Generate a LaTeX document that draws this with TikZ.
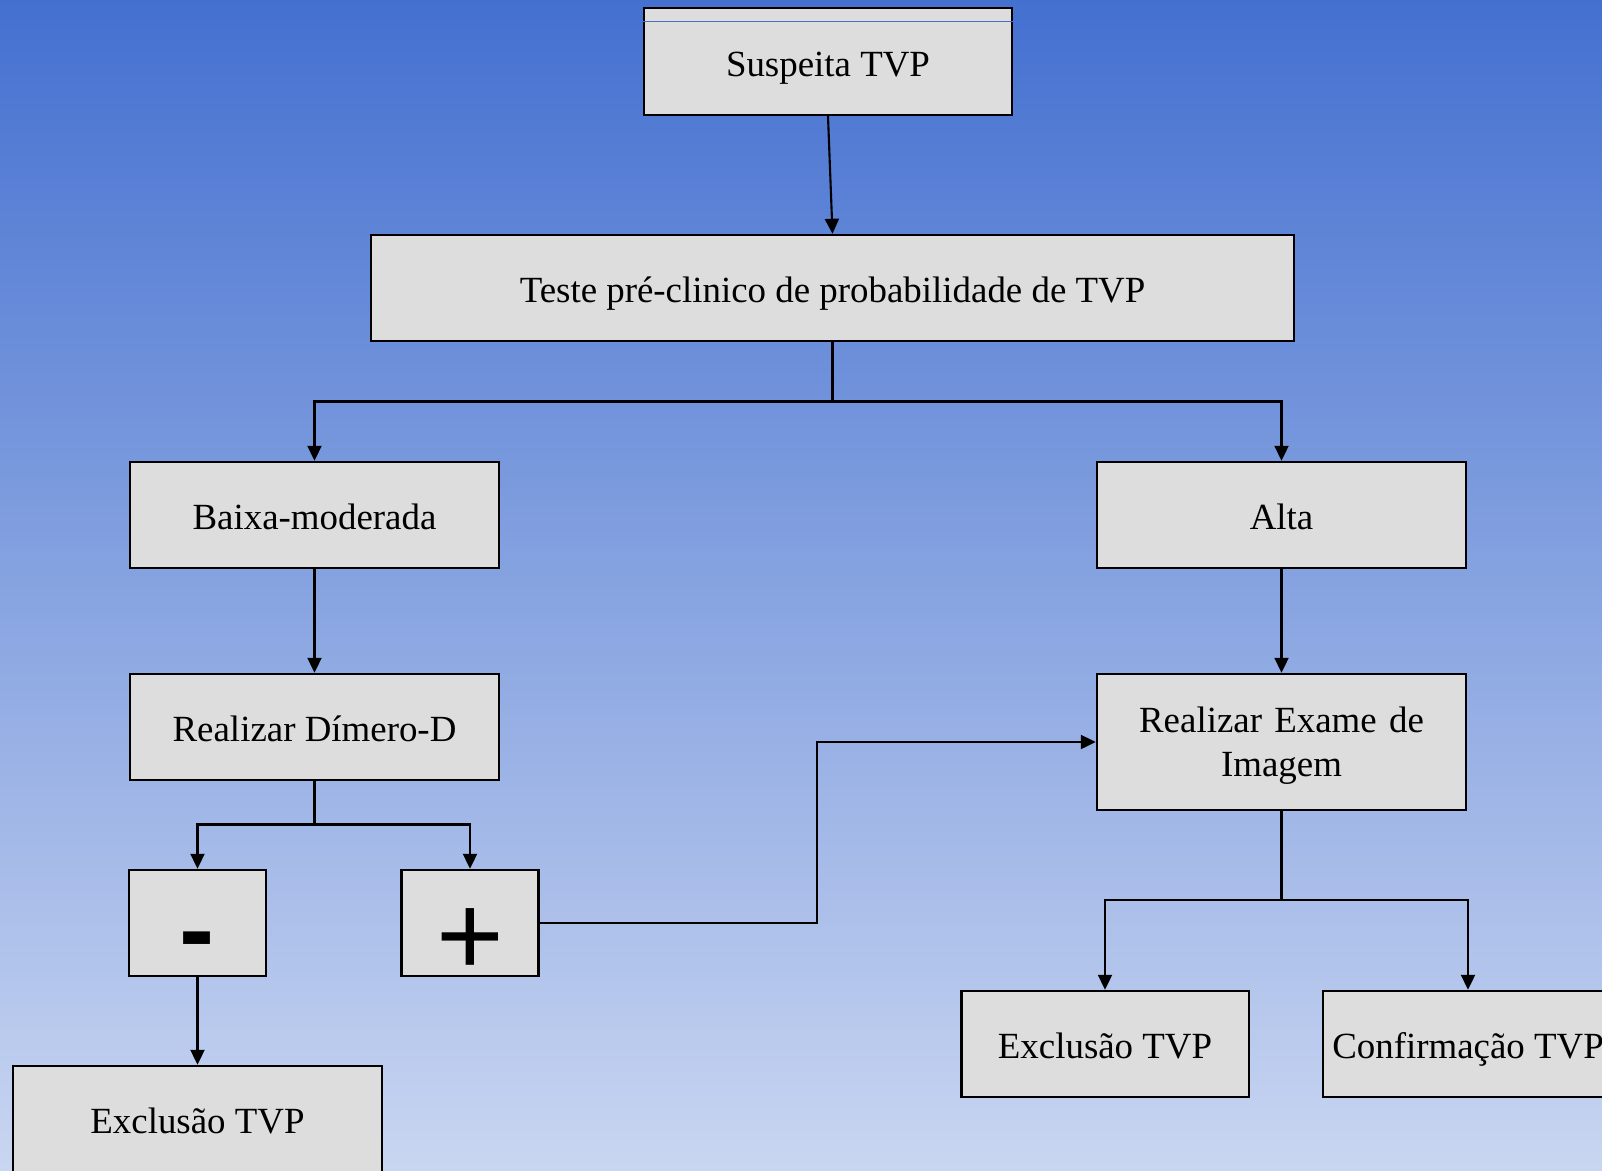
\documentclass[tikz,border=0pt]{standalone}
\usepackage{fontspec}
\setmainfont{Liberation Serif}
\newfontfamily\sinal{Liberation Sans}
\usetikzlibrary{arrows.meta}
\definecolor{fundoTopo}{RGB}{68,112,208}
\definecolor{fundoMeio}{RGB}{150,170,225}
\definecolor{fundoBase}{RGB}{201,214,241}
\definecolor{caixaCinza}{RGB}{221,221,221}
\definecolor{linhaAzul}{RGB}{74,111,200}
\tikzset{
  caixa/.style={draw=black, line width=1.4pt, fill=caixaCinza, inner sep=0pt,
    minimum height=2.12cm, font=\fontsize{21}{25}\selectfont, align=center,
    text height=22pt, text depth=5pt},
  seta/.style={line width=1.2pt, -{Triangle[length=0.3cm,width=0.28cm]}},
  liga/.style={line width=1.2pt}
}

\begin{document}
\begin{tikzpicture}[x=0.02cm, y=-0.02cm]
      \def\larg{7.38cm}
      \def\sinalw{2.74cm}

      % Background
      \shade[top color=fundoTopo, middle color=fundoMeio, bottom color=fundoBase] (0,0) rectangle (1602,1170);
      \useasboundingbox (0,0) rectangle (1602,1170);

      % Boxes
      \node[caixa, minimum width=7.36cm, minimum height=2.14cm] (susp) at (828,61.5) {Suspeita TVP};
      \node[caixa, minimum width=18.46cm] (teste) at (832.5,288) {Teste pré-clinico de probabilidade de TVP};
      \node[caixa, minimum width=\larg] (baixa) at (314.5,515) {Baixa-moderada};
      \node[caixa, minimum width=\larg] (alta) at (1281.5,515) {Alta};
      \node[caixa, minimum width=\larg] (dimero) at (314.5,727) {Realizar Dímero-D};
      \node[caixa, minimum width=\larg, minimum height=2.72cm, text width=7cm, text height=, text depth=] (exame) at (1281.5,742) {\rule{0pt}{19pt}Realizar Exame de\\Imagem};
      \node[caixa, minimum width=\sinalw, font=\sinal\bfseries\fontsize{60}{60}\selectfont, text height=48pt, text depth=0pt] (menos) at (197.5,923) {-};
      \node[caixa, minimum width=\sinalw, font=\sinal\fontsize{66}{66}\selectfont, text height=60pt, text depth=0pt] (mais) at (470,923) {+};
      \node[caixa, minimum width=\larg] (exclA) at (197.5,1119) {Exclusão TVP};
      \node[caixa, minimum width=5.75cm] (exclB) at (1105,1044) {Exclusão TVP};
      \node[caixa, minimum width=5.8cm] (conf) at (1468,1044) {Confirmação TVP};
      \draw[linhaAzul, line width=0.5pt] ([yshift=-0.3cm]susp.north west) -- ([yshift=-0.3cm]susp.north east);

      % Branch points
      \coordinate (ramoA) at (832.5,401.5);
      \coordinate (ramoB) at (314.5,824.5);
      \coordinate (ramoC) at (817,923);
      \coordinate (ramoD) at (1281.5,900);

      % Connectors
      \draw[seta] (susp.south) -- (teste.north);
      \draw[liga] (teste.south) -- (ramoA);
      \draw[seta] (ramoA) -| (baixa.north);
      \draw[seta] (ramoA) -| (alta.north);
      \draw[seta] (baixa.south) -- (dimero.north);
      \draw[seta] (alta.south) -- (exame.north);
      \draw[liga] (dimero.south) -- (ramoB);
      \draw[seta] (ramoB) -| (menos.north);
      \draw[seta] (ramoB) -| (mais.north);
      \draw[seta] (menos.south) -- (exclA.north);
      \draw[seta] (mais.east) -- (ramoC) |- (exame.west);
      \draw[liga] (exame.south) -- (ramoD);
      \draw[seta] (ramoD) -| (exclB.north);
      \draw[seta] (ramoD) -| (conf.north);
    \end{tikzpicture}
\end{document}
